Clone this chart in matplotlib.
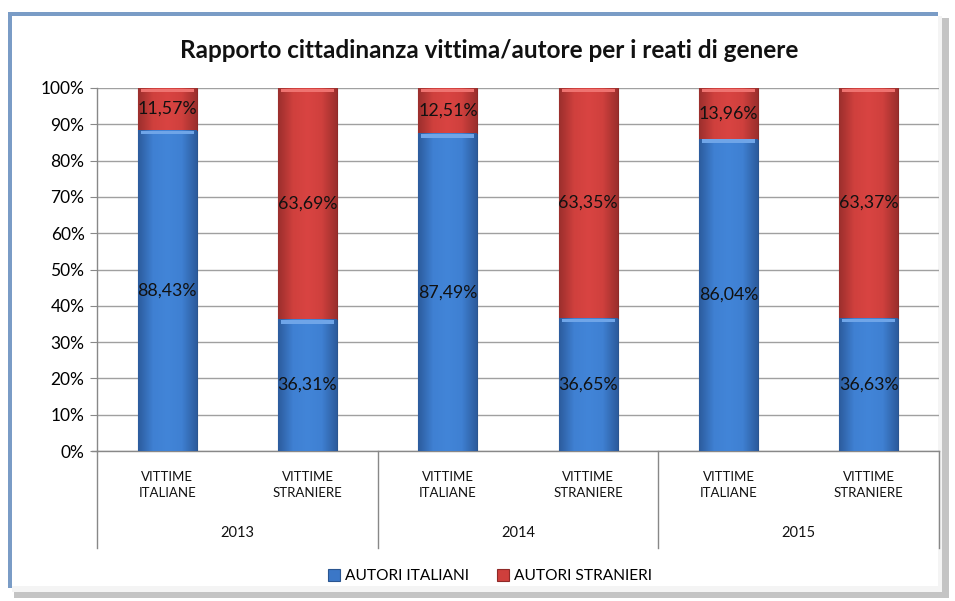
import matplotlib
matplotlib.use("Agg")
import matplotlib.pyplot as plt
from matplotlib.patches import Rectangle
from matplotlib.colors import LinearSegmentedColormap
import numpy as np

years = ["2013", "2014", "2015"]
victims = ["VITTIME\nITALIANE", "VITTIME\nSTRANIERE"]
autori_italiani = [88.43, 36.31, 87.49, 36.65, 86.04, 36.63]
autori_stranieri = [11.57, 63.69, 12.51, 63.35, 13.96, 63.37]
series_names = ["AUTORI ITALIANI", "AUTORI STRANIERI"]
title = "Rapporto cittadinanza vittima/autore per i reati di genere"

plt.rcParams['font.family'] = ['Lato', 'DejaVu Sans']

W, H = 955, 601
fig = plt.figure(figsize=(W/100, H/100), dpi=100)
fig.patch.set_facecolor("white")

def fx(px): return px / W
def fy(py): return 1 - py / H

def frect(x0, y0, x1, y1, color):
    fig.patches.append(Rectangle((fx(x0), fy(y1)), fx(x1) - fx(x0), fy(y0) - fy(y1),
                                 transform=fig.transFigure, facecolor=color, edgecolor="none",
                                 zorder=-10))

# frame: shadow right/bottom, blue border top/left
frect(14, 18, 949, 598, "#c4c4c4")
frect(8, 12, 938, 588, "#7a9cc6")
frect(12, 16, 942, 592, "#f4f4f4")
frect(12, 16, 938, 586, "white")

ax = fig.add_axes([fx(97), fy(451), fx(939) - fx(97), fy(88) - fy(451)])
ax.set_facecolor("none")
n = len(autori_italiani)
x = np.arange(n)
bw = 0.42
blue = "#3b77c7"
red = "#cf3f3c"
b1 = ax.bar(x, autori_italiani, bw, color=blue, edgecolor="#2a5590", linewidth=0.8, zorder=3,
            label=series_names[0])
b2 = ax.bar(x, autori_stranieri, bw, bottom=autori_italiani, color=red, edgecolor="#8f2a28",
            linewidth=0.8, zorder=3, label=series_names[1])

# horizontal shading inside each bar
cm_blue = LinearSegmentedColormap.from_list("b", ["#2c5c9e", "#3f80d2", "#4285d8", "#3f80d2", "#2c5c9e"])
cm_red = LinearSegmentedColormap.from_list("r", ["#9c2f2d", "#cf403d", "#d94442", "#cf403d", "#9c2f2d"])
grad = np.linspace(0, 1, 64).reshape(1, -1)
for bars, cm in ((b1, cm_blue), (b2, cm_red)):
    for r in bars:
        x0, y0 = r.get_x(), r.get_y()
        w, h = r.get_width(), r.get_height()
        im = ax.imshow(grad, cmap=cm, aspect="auto", extent=(x0, x0 + w, y0, y0 + h),
                       zorder=3.5, interpolation="bicubic")
        im.set_clip_path(r)

# subtle top highlight
for xi, a, s in zip(x, autori_italiani, autori_stranieri):
    ax.bar(xi, 1.0, bw * 0.9, bottom=a - 1.2, color="#6fa5e8", zorder=4, linewidth=0)
    ax.bar(xi, 1.0, bw * 0.9, bottom=a + s - 1.2, color="#ee7370", zorder=4, linewidth=0)

for xi, a, s in zip(x, autori_italiani, autori_stranieri):
    ax.text(xi, a / 2, f"{a:.2f}%".replace(".", ","), ha="center", va="center",
            fontsize=12.8, color="#111111", zorder=5)
    ax.text(xi, a + s / 2, f"{s:.2f}%".replace(".", ","), ha="center", va="center",
            fontsize=12.8, color="#111111", zorder=5)

ax.set_xlim(-0.5, n - 0.5)
ax.set_ylim(0, 100)
ax.set_yticks(np.arange(0, 101, 10))
ax.set_yticklabels([f"{v}%" for v in range(0, 101, 10)], fontsize=12.5)
ax.yaxis.grid(True, color="#a0a0a0", linewidth=1, zorder=0)
ax.set_axisbelow(True)
ax.tick_params(axis="y", length=5, color="#888888", pad=4)
ax.set_xticks([])
for sp in ["top", "right"]:
    ax.spines[sp].set_visible(False)
ax.spines["left"].set_color("#888888")
ax.spines["bottom"].set_color("#888888")
ax.spines["left"].set_linewidth(1)
ax.spines["bottom"].set_linewidth(1)

# category axis
trans = matplotlib.transforms.blended_transform_factory(ax.transData, fig.transFigure)
for i in range(n):
    ax.text(i, fy(485), victims[i % 2], transform=trans, ha="center", va="center",
            fontsize=9.5, linespacing=1.45, color="#111111")
for j, yr in enumerate(years):
    ax.text(2 * j + 0.5, fy(533), yr, transform=trans, ha="center", va="center",
            fontsize=10.5, color="#111111")
for k in range(len(years) + 1):
    xv = 2 * k - 0.5
    ax.plot([xv, xv], [fy(451), fy(548)], transform=trans, color="#888888", lw=1, clip_on=False)
ax.plot([-0.5 - 0.035, -0.5], [fy(451), fy(451)], transform=trans, color="#888888", lw=1, clip_on=False)

fig.text(fx(489), fy(50), title, ha="center", va="center", fontsize=17.5, fontweight="bold", color="#111111")

fig.legend(handles=[b1, b2], labels=series_names, loc="center", bbox_to_anchor=(fx(490), fy(576)),
           ncol=2, frameon=False, fontsize=11.2, handlelength=0.8, handleheight=0.8,
           handletextpad=0.3, columnspacing=1.8)

fig.savefig("out.png", dpi=100, facecolor="white")
